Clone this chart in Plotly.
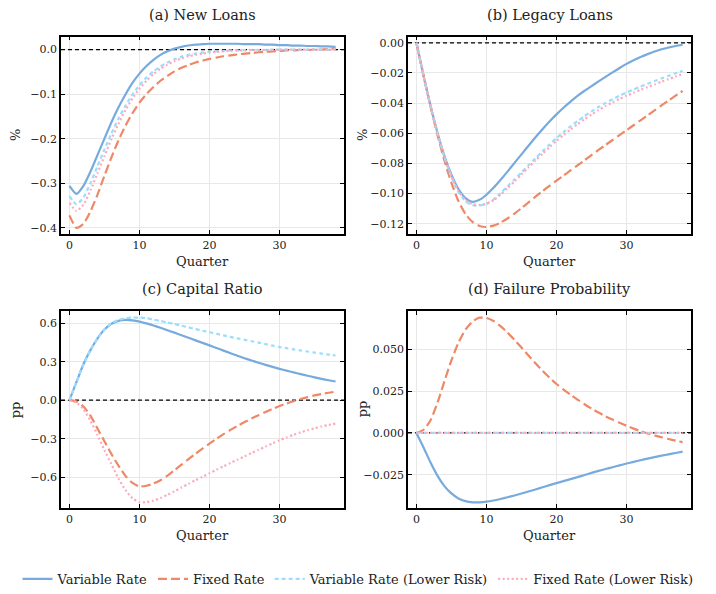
import plotly.graph_objects as go

quarters = list(range(39))
x_range = [-1.2, 39.2]

# (a) New Loans
a_var = [-0.306, -0.324, -0.306, -0.274, -0.237, -0.200, -0.163, -0.130, -0.101, -0.075,
         -0.054, -0.037, -0.023, -0.012, -0.004, 0.002, 0.006, 0.009, 0.011, 0.012,
         0.013, 0.013, 0.013, 0.013, 0.013, 0.012, 0.012, 0.012, 0.011, 0.011,
         0.010, 0.010, 0.009, 0.009, 0.008, 0.008, 0.007, 0.007, 0.006]
a_fix = [-0.372, -0.400, -0.391, -0.363, -0.326, -0.283, -0.242, -0.204, -0.171, -0.143,
         -0.119, -0.100, -0.084, -0.070, -0.059, -0.049, -0.041, -0.035, -0.029, -0.025,
         -0.021, -0.018, -0.015, -0.013, -0.011, -0.009, -0.008, -0.006, -0.005, -0.004,
         -0.003, -0.002, -0.002, -0.001, -0.001, 0.000, 0.000, 0.001, 0.002]
a_var_lr = [-0.329, -0.347, -0.332, -0.300, -0.262, -0.224, -0.188, -0.155, -0.126, -0.101,
            -0.080, -0.063, -0.049, -0.038, -0.029, -0.022, -0.016, -0.012, -0.009, -0.007,
            -0.005, -0.004, -0.003, -0.002, -0.002, -0.001, -0.001, -0.001, -0.001, 0.000,
            0.000, 0.000, 0.000, 0.000, 0.000, 0.000, 0.000, 0.000, 0.000]
a_fix_lr = [-0.344, -0.362, -0.348, -0.316, -0.278, -0.239, -0.201, -0.167, -0.136, -0.110,
            -0.088, -0.070, -0.055, -0.043, -0.034, -0.026, -0.020, -0.015, -0.012, -0.009,
            -0.007, -0.005, -0.004, -0.003, -0.002, -0.002, -0.001, -0.001, -0.001, -0.001,
            0.000, 0.000, 0.000, 0.000, 0.000, 0.000, 0.000, 0.000, 0.000]

# (b) Legacy Loans
b_var = [0.0, -0.0215, -0.0415, -0.0595, -0.0750, -0.0875, -0.0970, -0.1030, -0.1055, -0.1042,
         -0.1008, -0.0962, -0.0910, -0.0855, -0.0797, -0.0740, -0.0683, -0.0627, -0.0573, -0.0522,
         -0.0475, -0.0431, -0.0390, -0.0352, -0.0318, -0.0287, -0.0256, -0.0226, -0.0196, -0.0167,
         -0.0140, -0.0116, -0.0094, -0.0075, -0.0058, -0.0043, -0.0031, -0.0021, -0.0013]
b_fix = [0.0, -0.0215, -0.0420, -0.0610, -0.0780, -0.0930, -0.1050, -0.1135, -0.1188, -0.1215,
         -0.1222, -0.1213, -0.1193, -0.1166, -0.1133, -0.1097, -0.1059, -0.1021, -0.0984, -0.0949,
         -0.0915, -0.0881, -0.0847, -0.0813, -0.0779, -0.0745, -0.0711, -0.0678, -0.0645, -0.0612,
         -0.0580, -0.0547, -0.0514, -0.0481, -0.0448, -0.0415, -0.0383, -0.0351, -0.0320]
b_var_lr = [0.0, -0.0215, -0.0415, -0.0598, -0.0758, -0.0890, -0.0990, -0.1050, -0.1078, -0.1080,
            -0.1068, -0.1040, -0.0998, -0.0953, -0.0907, -0.0860, -0.0813, -0.0766, -0.0720, -0.0675,
            -0.0632, -0.0592, -0.0554, -0.0519, -0.0486, -0.0455, -0.0426, -0.0399, -0.0374, -0.0351,
            -0.0330, -0.0310, -0.0291, -0.0272, -0.0254, -0.0236, -0.0219, -0.0202, -0.0186]
b_fix_lr = [0.0, -0.0215, -0.0413, -0.0595, -0.0755, -0.0885, -0.0983, -0.1043, -0.1070, -0.1075,
            -0.1068, -0.1045, -0.1008, -0.0965, -0.0920, -0.0873, -0.0826, -0.0780, -0.0735, -0.0692,
            -0.0651, -0.0612, -0.0575, -0.0540, -0.0507, -0.0476, -0.0447, -0.0420, -0.0395, -0.0372,
            -0.0351, -0.0331, -0.0312, -0.0294, -0.0276, -0.0258, -0.0241, -0.0224, -0.0207]

# (c) Capital Ratio
c_var = [0.0, 0.14, 0.28, 0.39, 0.48, 0.55, 0.595, 0.618, 0.625, 0.621,
         0.612, 0.598, 0.582, 0.564, 0.545, 0.526, 0.506, 0.486, 0.466, 0.446,
         0.427, 0.406, 0.386, 0.366, 0.346, 0.327, 0.309, 0.292, 0.275, 0.259,
         0.244, 0.230, 0.216, 0.203, 0.190, 0.178, 0.166, 0.155, 0.145]
c_fix = [0.0, -0.01, -0.05, -0.12, -0.22, -0.32, -0.42, -0.51, -0.59, -0.645,
         -0.672, -0.667, -0.650, -0.624, -0.588, -0.546, -0.503, -0.460, -0.418, -0.377,
         -0.338, -0.300, -0.265, -0.232, -0.200, -0.171, -0.143, -0.117, -0.092, -0.068,
         -0.046, -0.026, -0.008, 0.009, 0.024, 0.037, 0.048, 0.058, 0.066]
c_var_lr = [0.0, 0.14, 0.28, 0.39, 0.48, 0.55, 0.598, 0.625, 0.638, 0.644,
            0.643, 0.638, 0.628, 0.617, 0.605, 0.593, 0.580, 0.567, 0.554, 0.541,
            0.529, 0.517, 0.505, 0.493, 0.481, 0.470, 0.459, 0.448, 0.437, 0.425,
            0.414, 0.405, 0.396, 0.387, 0.379, 0.371, 0.363, 0.355, 0.348]
c_fix_lr = [0.0, -0.02, -0.07, -0.16, -0.27, -0.39, -0.50, -0.61, -0.70, -0.765,
            -0.795, -0.795, -0.783, -0.763, -0.738, -0.710, -0.681, -0.652, -0.624, -0.597,
            -0.570, -0.543, -0.516, -0.490, -0.464, -0.438, -0.412, -0.387, -0.362, -0.337,
            -0.313, -0.291, -0.270, -0.251, -0.234, -0.219, -0.205, -0.193, -0.183]

# (d) Failure Probability
d_var = [0.0, -0.0085, -0.0175, -0.0255, -0.0318, -0.0362, -0.0392, -0.0408, -0.0415, -0.0415,
         -0.0411, -0.0404, -0.0395, -0.0385, -0.0374, -0.0362, -0.0350, -0.0338, -0.0325, -0.0312,
         -0.0300, -0.0288, -0.0276, -0.0264, -0.0252, -0.0239, -0.0227, -0.0216, -0.0205, -0.0194,
         -0.0183, -0.0173, -0.0163, -0.0154, -0.0145, -0.0136, -0.0128, -0.0120, -0.0112]
d_fix = [0.0, 0.0018, 0.0075, 0.0180, 0.0310, 0.0435, 0.0540, 0.0618, 0.0667, 0.0690,
         0.0688, 0.0670, 0.0640, 0.0601, 0.0557, 0.0511, 0.0464, 0.0417, 0.0372, 0.0331,
         0.0293, 0.0260, 0.0229, 0.0200, 0.0172, 0.0146, 0.0122, 0.0100, 0.0080, 0.0061,
         0.0043, 0.0026, 0.0011, -0.0003, -0.0015, -0.0026, -0.0036, -0.0046, -0.0055]
d_var_lr = [0.0] * 39
d_fix_lr = [0.0] * 39

series_names = ["Variable Rate", "Fixed Rate", "Variable Rate (Lower Risk)", "Fixed Rate (Lower Risk)"]
panel_titles = ["(a) New Loans", "(b) Legacy Loans", "(c) Capital Ratio", "(d) Failure Probability"]
y_labels = ["%", "%", "pp", "pp"]
panels_data = [
    [a_var, a_fix, a_var_lr, a_fix_lr],
    [b_var, b_fix, b_var_lr, b_fix_lr],
    [c_var, c_fix, c_var_lr, c_fix_lr],
    [d_var, d_fix, d_var_lr, d_fix_lr],
]

colors = ["#77AADD", "#EE8866", "#99DDFF", "#FFAABB"]
dashes = ["solid", "9px,4px", "4px,3px", "2px,2.5px"]
widths = [2.2, 2.2, 2.2, 2.2]

W, H = 716, 594
# pixel boxes: (left, right, top, bottom)
boxes = [(61, 344, 37, 236), (408, 691, 37, 236), (61, 344, 314, 513), (408, 691, 314, 513)]
yranges = [[-0.413, 0.029], [-0.1266, 0.0041], [-0.839, 0.696], [-0.0448, 0.0731]]
ytick_vals = [
    [-0.4, -0.3, -0.2, -0.1, 0.0],
    [-0.12, -0.10, -0.08, -0.06, -0.04, -0.02, 0.0],
    [-0.6, -0.3, 0.0, 0.3, 0.6],
    [-0.025, 0.0, 0.025, 0.05],
]
yformats = [".1f", ".2f", ".1f", ".3f"]

FONT = "DejaVu Serif"
fig = go.Figure()
layout = dict(
    width=W, height=H, margin=dict(l=0, r=0, t=0, b=0),
    paper_bgcolor="white", plot_bgcolor="white",
    font=dict(family=FONT, color="#222222", size=11),
    showlegend=True,
    legend=dict(orientation="h", x=0.5, xanchor="center", y=1 - 585 / H, yanchor="middle",
                font=dict(family=FONT, size=13, color="#222222"), itemwidth=30,
                bgcolor="rgba(0,0,0,0)"),
)
annotations = []
for i in range(4):
    l, r, t, b = boxes[i]
    xa = "xaxis" if i == 0 else f"xaxis{i+1}"
    ya = "yaxis" if i == 0 else f"yaxis{i+1}"
    xref = "x" if i == 0 else f"x{i+1}"
    yref = "y" if i == 0 else f"y{i+1}"
    common = dict(showline=True, mirror="ticks", linecolor="black", linewidth=1.5,
                  ticks="inside", ticklen=4, tickwidth=1.2, tickcolor="black",
                  showgrid=True, gridcolor="#e8e8e8", gridwidth=1, zeroline=False,
                  tickfont=dict(family=FONT, size=11, color="#222222"))
    layout[xa] = dict(domain=[l / W, r / W], range=x_range, tickvals=[0, 10, 20, 30],
                      anchor=yref, **common)
    layout[ya] = dict(domain=[1 - b / H, 1 - t / H], range=yranges[i], tickvals=ytick_vals[i],
                      tickformat=yformats[i], anchor=xref, **common)
    # zero reference line (drawn beneath the series)
    fig.add_trace(go.Scatter(x=x_range, y=[0, 0], mode="lines", showlegend=False, hoverinfo="skip",
                             line=dict(color="black", width=1.3, dash="4px,3px"),
                             xaxis=xref, yaxis=yref))
    for k in range(4):
        fig.add_trace(go.Scatter(
            x=quarters, y=panels_data[i][k], mode="lines", name=series_names[k],
            legendgroup=series_names[k], showlegend=(i == 0),
            line=dict(color=colors[k], width=widths[k], dash=dashes[k], shape="spline", smoothing=0.6),
            xaxis=xref, yaxis=yref))
    cx = (l + r) / 2
    annotations.append(dict(text=panel_titles[i], x=cx / W, y=1 - (t - 22) / H, xref="paper", yref="paper",
                            showarrow=False, font=dict(family=FONT, size=14.5, color="#222222"),
                            xanchor="center", yanchor="middle"))
    annotations.append(dict(text="Quarter", x=cx / W, y=1 - (b + 28) / H, xref="paper", yref="paper",
                            showarrow=False, font=dict(family=FONT, size=13, color="#222222"),
                            xanchor="center", yanchor="middle"))
    annotations.append(dict(text=y_labels[i], x=(l - 46) / W, y=1 - ((t + b) / 2) / H, xref="paper", yref="paper",
                            showarrow=False, textangle=-90, font=dict(family=FONT, size=13, color="#222222"),
                            xanchor="center", yanchor="middle"))

layout["annotations"] = annotations
fig.update_layout(**layout)
fig.write_html("out.html")
